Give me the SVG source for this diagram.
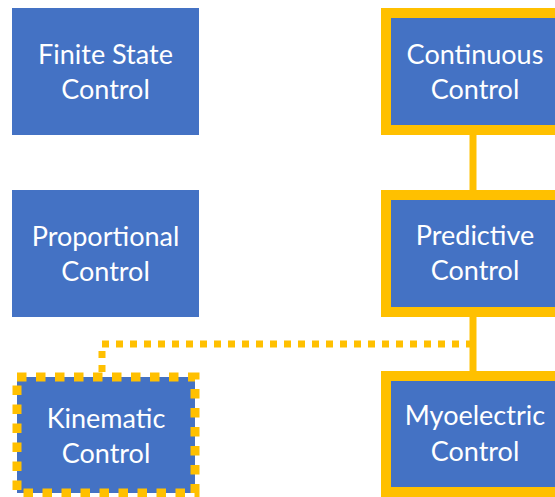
<svg xmlns="http://www.w3.org/2000/svg" width="555" height="497" viewBox="0 0 555 497">
<style>
.box{fill:#4472C4}
.hl{fill:#4472C4;stroke:#FFC000;stroke-width:10}
.dash{fill:#4472C4;stroke:#FFC000;stroke-width:9;stroke-dasharray:9.5 9.5}
.lbl{font-family:Lato,"Liberation Sans",sans-serif;font-size:27px;fill:#FFFFFF;text-anchor:middle}
.con{fill:none;stroke:#FFC000;stroke-width:7}
</style>
<rect width="555" height="497" fill="#FFFFFF"/>
<g id="connectors">
<line class="con" x1="473" y1="130" x2="473" y2="195"/>
<line class="con" x1="473" y1="312" x2="473" y2="376"/>
<path class="con" d="M473,344 H102 V377" stroke-dasharray="7 7"/>
</g>
<g id="finite-state">
<rect class="box" x="12" y="8" width="187" height="127"/>
<text class="lbl" x="105.5" y="64">Finite State</text>
<text class="lbl" x="105.5" y="99">Control</text>
</g>
<g id="proportional">
<rect class="box" x="12" y="190" width="187" height="127"/>
<text class="lbl" x="105.5" y="246">Proportional</text>
<text class="lbl" x="105.5" y="281">Control</text>
</g>
<g id="kinematic">
<rect class="dash" x="17" y="377" width="178" height="116"/>
<text class="lbl" x="106" y="428">Kinematic</text>
<text class="lbl" x="106" y="463">Control</text>
</g>
<g id="continuous">
<rect class="hl" x="386" y="13" width="178" height="117"/>
<text class="lbl" x="475" y="64">Continuous</text>
<text class="lbl" x="475" y="99">Control</text>
</g>
<g id="predictive">
<rect class="hl" x="386" y="195" width="178" height="117"/>
<text class="lbl" x="475" y="245">Predictive</text>
<text class="lbl" x="475" y="280">Control</text>
</g>
<g id="myoelectric">
<rect class="hl" x="386" y="376" width="178" height="116"/>
<text class="lbl" x="475" y="425">Myoelectric</text>
<text class="lbl" x="475" y="461">Control</text>
</g>
</svg>
